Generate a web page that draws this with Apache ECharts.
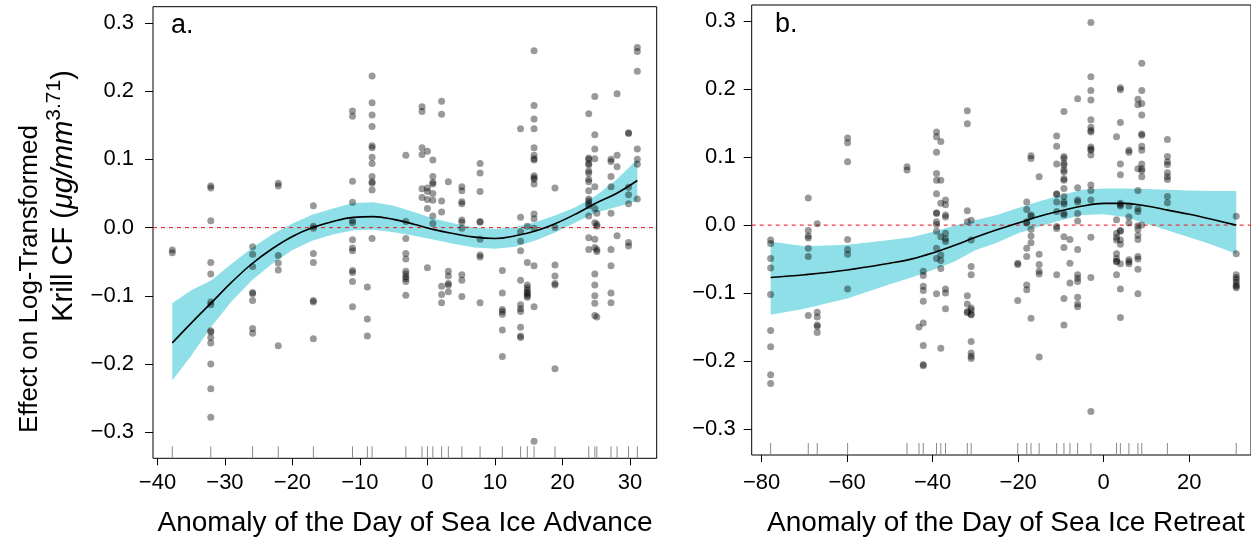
<!DOCTYPE html>
<html>
<head>
<meta charset="utf-8">
<script src="https://cdn.jsdelivr.net/npm/echarts@6/dist/echarts.min.js"></script>
<style>
html,body{margin:0;padding:0;background:#fff;}
#chart{width:1251px;height:539px;}
</style>
</head>
<body>
<div id="chart"></div>
<script>
// ---------- Panel a: Anomaly of the Day of Sea Ice Advance ----------
const advCols = [-37.8, -32.1, -25.9, -22.1, -16.9, -11.1, -8.9, -8.2, -3.2, -0.8, 0, 0.8, 2.1, 3.1, 5.1, 7.8, 11.1, 13.8, 14.8, 15.8, 18.9, 23.9, 24.8, 25.1, 27.2, 28.1, 29.8, 31.1];
const advVals = [
  [-0.033, -0.037],
  [0.061, 0.058, 0.010, -0.051, -0.068, -0.109, -0.113, -0.151, -0.153, -0.161, -0.169, -0.200, -0.236, -0.278],
  [-0.028, -0.039, -0.057, -0.095, -0.097, -0.107, -0.148, -0.155],
  [0.065, 0.061, -0.041, -0.052, -0.062, -0.173],
  [0.032, 0.002, -0.001, -0.038, -0.051, -0.107, -0.109, -0.163],
  [0.171, 0.163, 0.068, 0.037, 0.010, 0.007, -0.018, -0.030, -0.034, -0.063, -0.066, -0.079, -0.116],
  [-0.087, -0.134, -0.159],
  [0.222, 0.183, 0.165, 0.148, 0.120, 0.117, 0.103, 0.094, 0.075, 0.067, 0.065, 0.055, -0.016],
  [0.106, 0.009, -0.016, -0.038, -0.046, -0.064, -0.068, -0.072, -0.075, -0.079, -0.099],
  [0.177, 0.170, 0.117, 0.107, 0.057, 0.044],
  [0.112, 0.058, 0.053, 0.041, 0.028, -0.059],
  [0.099, 0.075, 0.066, 0.064, 0.050, 0.040, 0.017, 0.006],
  [0.185, 0.166, 0.039, 0.023, -0.086, -0.098, -0.110],
  [0.067, -0.064, -0.071, -0.082, -0.084, -0.094],
  [0.060, 0.054, 0.038, 0.035, 0.011, 0.008, -0.001, -0.069, -0.077, -0.101],
  [0.094, 0.080, 0.053, 0.009, 0.008, -0.017, -0.040, -0.043, -0.110],
  [-0.063, -0.096, -0.120, -0.123, -0.127, -0.150, -0.189],
  [0.145, 0.015, -0.006, -0.020, -0.034, -0.077, -0.113, -0.119, -0.123, -0.146, -0.159, -0.161],
  [0.002, -0.051, -0.084, -0.088, -0.092, -0.095, -0.097, -0.100, -0.102],
  [0.259, 0.179, 0.159, 0.145, 0.117, 0.106, 0.101, 0.099, 0.076, 0.073, 0.071, 0.064, 0.020, 0.013, -0.001, -0.056, -0.116, -0.313],
  [0.058, 0.000, -0.055, -0.071, -0.082, -0.084, -0.207],
  [0.167, 0.102, 0.100, 0.094, 0.092, 0.083, 0.080, 0.071, 0.067, 0.054, 0.042, 0.039, 0.035, 0.032, 0.017, -0.015, -0.032],
  [0.192, 0.136, 0.115, 0.101, 0.060, 0.028, 0.007, -0.017, -0.029, -0.068, -0.084, -0.100, -0.111, -0.129],
  [0.021, 0.005, 0.002, -0.032, -0.035, -0.131],
  [0.100, 0.097, 0.075, 0.060, 0.021, -0.032, -0.056, -0.096, -0.110],
  [0.196, 0.106, 0.089, -0.012],
  [0.139, 0.138, 0.059, 0.048, 0.035, -0.022, -0.027],
  [0.264, 0.258, 0.229, 0.115, 0.100, 0.093, 0.042]
];
const advFitX  = [-37.8, -35, -32, -29, -26, -23, -20, -17, -14, -11, -8, -5, -2, 1, 4, 7, 10, 13, 16, 19, 22, 25, 28, 31.1];
const advFit   = [-0.169, -0.140, -0.110, -0.080, -0.053, -0.031, -0.013, 0.000, 0.009, 0.015, 0.016, 0.012, 0.005, -0.003, -0.009, -0.014, -0.016, -0.012, -0.005, 0.006, 0.020, 0.036, 0.050, 0.069];
const advUpper = [-0.111, -0.092, -0.077, -0.053, -0.030, -0.010, 0.006, 0.019, 0.028, 0.036, 0.037, 0.032, 0.023, 0.013, 0.006, 0.000, -0.002, 0.001, 0.008, 0.018, 0.030, 0.047, 0.070, 0.100];
const advLower = [-0.224, -0.188, -0.145, -0.108, -0.077, -0.053, -0.033, -0.019, -0.010, -0.004, -0.003, -0.007, -0.012, -0.018, -0.024, -0.029, -0.031, -0.028, -0.019, -0.007, 0.008, 0.022, 0.030, 0.039];

// ---------- Panel b: Anomaly of the Day of Sea Ice Retreat ----------
const retCols = [-77.9, -69.1, -67.0, -59.9, -46.0, -43.2, -42.2, -39.1, -38.1, -37.0, -31.9, -31.0, -20.1, -18.0, -17.0, -15.1, -11.0, -9.3, -7.9, -6.1, -3.0, 3.0, 3.9, 5.9, 8.0, 8.9, 14.9, 31.0];
const retVals = [
  [-0.022, -0.027, -0.049, -0.063, -0.102, -0.155, -0.179, -0.220, -0.233],
  [0.040, -0.008, -0.016, -0.019, -0.034, -0.046, -0.133],
  [0.002, -0.128, -0.135, -0.147, -0.149, -0.158],
  [0.128, 0.121, 0.093, -0.021, -0.036, -0.043, -0.094],
  [0.086, 0.081],
  [-0.150],
  [-0.068, -0.074, -0.090, -0.096, -0.112, -0.144, -0.177, -0.205, -0.207],
  [0.137, 0.130, 0.107, 0.076, 0.066, 0.046, 0.018, 0.017, 0.005, 0.001, -0.009, -0.034, -0.049, -0.101],
  [0.123, 0.066, 0.032, -0.017, -0.044, -0.052, -0.064, -0.181],
  [0.037, 0.030, 0.015, 0.012, -0.012, -0.020, -0.024, -0.094, -0.100, -0.123],
  [0.168, 0.149, 0.021, 0.005, -0.104, -0.116, -0.127, -0.129],
  [0.007, -0.022, -0.061, -0.073, -0.122, -0.125, -0.131, -0.132, -0.171, -0.188, -0.193, -0.196],
  [-0.056, -0.058, -0.111],
  [0.034, 0.023, 0.005, 0.003, -0.034, -0.046, -0.088, -0.095],
  [0.102, 0.098, 0.015, 0.013, -0.006, -0.016, -0.026, -0.137],
  [0.071, -0.043, -0.058, -0.068, -0.072, -0.194],
  [0.131, 0.116, 0.090, 0.046, 0.045, 0.034, 0.020, -0.002, -0.005, -0.073],
  [0.167, 0.101, 0.098, 0.091, 0.088, 0.081, 0.078, 0.068, 0.066, 0.054, 0.042, 0.034, 0.031, 0.017, 0.015, -0.017, -0.033, -0.108, -0.147],
  [-0.021, -0.056, -0.085],
  [0.186, 0.055, 0.037, 0.034, 0.017, 0.006, -0.036, -0.073, -0.078, -0.083, -0.106, -0.116, -0.120],
  [0.298, 0.218, 0.198, 0.184, 0.155, 0.144, 0.139, 0.137, 0.115, 0.112, 0.110, 0.103, 0.059, 0.051, 0.037, -0.018, -0.077, -0.274],
  [0.130, 0.008, -0.012, -0.018, -0.022, -0.042, -0.049, -0.053, -0.054, -0.073],
  [0.202, 0.199, 0.151, 0.090, 0.074, 0.032, 0.030, 0.028, -0.008, -0.009, -0.022, -0.028, -0.057, -0.094, -0.136],
  [0.110, 0.107, 0.028, 0.012, 0.003, -0.051, -0.054, -0.057],
  [0.185, 0.177, 0.083, 0.051, 0.024, 0.020, -0.001, -0.006, -0.015, -0.021, -0.046, -0.050, -0.065, -0.101],
  [0.238, 0.198, 0.179, 0.162, 0.134, 0.132, 0.116, 0.110, 0.090, 0.083, 0.080, 0.071, 0.000],
  [0.126, 0.101, 0.093, 0.089, 0.077, 0.071, 0.067, 0.042, 0.033],
  [0.013, -0.042, -0.073, -0.077, -0.080, -0.084, -0.088, -0.090, -0.092]
];
const retFitX  = [-77.9, -70, -60, -50, -45, -40, -35, -30, -25, -20, -15, -10, -5, 0, 5, 10, 15, 20, 25, 31];
const retFit   = [-0.077, -0.073, -0.066, -0.056, -0.050, -0.041, -0.030, -0.018, -0.007, 0.003, 0.013, 0.021, 0.028, 0.032, 0.032, 0.028, 0.022, 0.016, 0.009, 0.000];
const retUpper = [-0.024, -0.031, -0.029, -0.022, -0.018, -0.010, -0.001, 0.007, 0.015, 0.025, 0.035, 0.044, 0.052, 0.054, 0.054, 0.053, 0.052, 0.051, 0.050, 0.050];
const retLower = [-0.132, -0.123, -0.108, -0.087, -0.077, -0.066, -0.054, -0.037, -0.026, -0.012, -0.002, 0.007, 0.015, 0.016, 0.012, 0.002, -0.008, -0.018, -0.028, -0.042];

// ---------- Axes ----------
const yTicks = [-0.3, -0.2, -0.1, 0, 0.1, 0.2, 0.3];
const advTicks = [-40, -30, -20, -10, 0, 10, 20, 30];
const retTicks = [-80, -60, -40, -20, 0, 20];
const yLabelA = 'Effect on Log-Transformed';
const xLabelA = 'Anomaly of the Day of Sea Ice Advance';
const xLabelB = 'Anomaly of the Day of Sea Ice Retreat';

const FONT = '"Liberation Sans", Arial, Helvetica, sans-serif';
const YMIN = -0.3381, YMAX = 0.3237;

function pts(cols, vals) {
  const out = [];
  cols.forEach((x, i) => vals[i].forEach(v => out.push([x, v])));
  return out;
}
function zip(xs, ys) { return xs.map((x, i) => [x, ys[i]]); }
function bandData(xs, lo, hi) { return xs.map((x, i) => [x, lo[i], hi[i]]); }

function bandSeries(idx, data) {
  return {
    type: 'custom', xAxisIndex: idx, yAxisIndex: idx, z: 1, silent: true,
    data: data, encode: { x: 0, y: [1, 2] },
    renderItem: function (params, api) {
      if (params.dataIndex !== 0) return null;
      const up = data.map(d => api.coord([d[0], d[2]]));
      const lo = data.map(d => api.coord([d[0], d[1]])).reverse();
      return { type: 'polygon', shape: { points: up.concat(lo) }, style: { fill: '#8EDFE7', stroke: null } };
    }
  };
}
function rugSeries(idx, cols) {
  return {
    type: 'custom', xAxisIndex: idx, yAxisIndex: idx, z: 2, silent: true,
    data: cols.map(x => [x]), encode: { x: 0 },
    renderItem: function (params, api) {
      const p = api.coord([api.value(0), YMIN]);
      return { type: 'line', shape: { x1: p[0], y1: p[1], x2: p[0], y2: p[1] - 12 }, style: { stroke: '#8a8a8a', lineWidth: 1 } };
    }
  };
}
function zeroLineSeries(idx, xmin, xmax) {
  return {
    type: 'custom', xAxisIndex: idx, yAxisIndex: idx, z: 3, silent: true,
    data: [[xmin, xmax]], encode: { x: [0, 1] },
    renderItem: function (params, api) {
      const a = api.coord([api.value(0), 0]);
      const b = api.coord([api.value(1), 0]);
      return { type: 'line', shape: { x1: a[0], y1: a[1], x2: b[0], y2: b[1] },
               style: { stroke: '#E8262A', lineWidth: 1.1, lineDash: [4, 4] } };
    }
  };
}
function scatterSeries(idx, data) {
  return {
    type: 'scatter', xAxisIndex: idx, yAxisIndex: idx, z: 4, silent: true,
    data: data, symbolSize: 7,
    itemStyle: { color: 'rgba(0,0,0,0.5)', borderWidth: 0 }
  };
}
function fitSeries(idx, data) {
  return {
    type: 'line', xAxisIndex: idx, yAxisIndex: idx, z: 5, silent: true, symbol: 'none',
    data: data, smooth: 0.4, lineStyle: { color: '#000', width: 1.6 }
  };
}
const minus = s => String(s).replace('-', '\u2212');
function xAxisCfg(idx, min, max, ticks, margin) {
  return {
    type: 'value', gridIndex: idx, min: min, max: max, position: 'bottom',
    axisLine: { show: false, onZero: false },
    axisTick: { show: true, inside: false, length: 7, lineStyle: { color: '#000', width: 1 }, customValues: ticks },
    axisLabel: { customValues: ticks, margin: margin, color: '#000', fontSize: 22, fontFamily: FONT, formatter: v => minus(v) },
    splitLine: { show: false }
  };
}
function yAxisCfg(idx, margin) {
  return {
    type: 'value', gridIndex: idx, min: YMIN, max: YMAX, position: 'left',
    axisLine: { show: false, onZero: false },
    axisTick: { show: true, inside: false, length: 8, lineStyle: { color: '#000', width: 1 }, customValues: yTicks },
    axisLabel: { customValues: yTicks, margin: margin, color: '#000', fontSize: 22, fontFamily: FONT, formatter: v => minus(Number(v).toFixed(1)) },
    splitLine: { show: false }
  };
}

const chart = echarts.init(document.getElementById('chart'), null, { renderer: 'canvas' });
chart.setOption({
  animation: false,
  backgroundColor: '#fff',
  grid: [
    { left: 153, top: 6.7, width: 503.7, height: 451.6, show: true, borderColor: '#000', borderWidth: 1, backgroundColor: 'transparent' },
    { left: 751.7, top: 5, width: 501, height: 450, show: true, borderColor: '#000', borderWidth: 1, backgroundColor: 'transparent' }
  ],
  xAxis: [ xAxisCfg(0, -40.66, 33.97, advTicks, 14), xAxisCfg(1, -82.33, 34.45, retTicks, 17) ],
  yAxis: [ yAxisCfg(0, 19), yAxisCfg(1, 16) ],
  series: [
    bandSeries(0, bandData(advFitX, advLower, advUpper)),
    rugSeries(0, advCols),
    zeroLineSeries(0, -40.66, 33.97),
    scatterSeries(0, pts(advCols, advVals)),
    fitSeries(0, zip(advFitX, advFit)),
    bandSeries(1, bandData(retFitX, retLower, retUpper)),
    rugSeries(1, retCols),
    zeroLineSeries(1, -82.33, 34.45),
    scatterSeries(1, pts(retCols, retVals)),
    fitSeries(1, zip(retFitX, retFit))
  ],
  graphic: [
    { type: 'text', x: 171, y: 26, silent: true, style: { text: 'a.', font: '27px ' + FONT, fill: '#000', align: 'left', verticalAlign: 'middle' } },
    { type: 'text', x: 775, y: 25, silent: true, style: { text: 'b.', font: '27px ' + FONT, fill: '#000', align: 'left', verticalAlign: 'middle' } },
    { type: 'text', x: 405, y: 523, silent: true, style: { text: xLabelA, font: '28px ' + FONT, fill: '#000', align: 'center', verticalAlign: 'middle' } },
    { type: 'text', x: 1006, y: 523, silent: true, style: { text: xLabelB, font: '28px ' + FONT, fill: '#000', align: 'center', verticalAlign: 'middle' } },
    { type: 'text', x: 30, y: 279, rotation: Math.PI / 2, silent: true, style: { text: yLabelA, font: '26px ' + FONT, fill: '#000', align: 'center', verticalAlign: 'middle' } },
    { type: 'text', x: 61, y: 196, rotation: Math.PI / 2, silent: true, style: {
        text: '{n|Krill CF (}{i|\u03bcg/mm}{s|3.71}{n|)}', align: 'center', verticalAlign: 'middle', fill: '#000',
        rich: {
          n: { fontSize: 29, fontFamily: FONT, lineHeight: 34, verticalAlign: 'bottom' },
          i: { fontSize: 29, fontFamily: FONT, fontStyle: 'italic', lineHeight: 34, verticalAlign: 'bottom' },
          s: { fontSize: 21, fontFamily: FONT, lineHeight: 34, verticalAlign: 'top' }
        }
      } }
  ]
});
</script>
</body>
</html>
